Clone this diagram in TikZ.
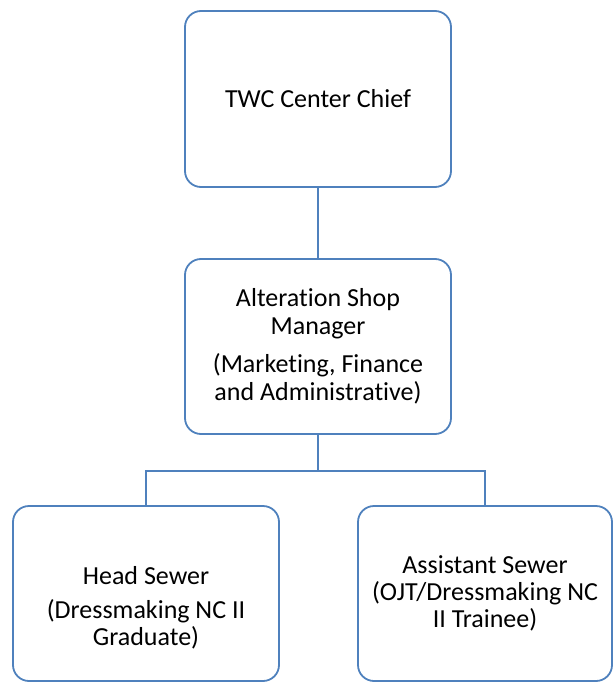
\documentclass[tikz,border=0pt]{standalone}
\usepackage{fontspec}
\setmainfont{Carlito}[Ligatures={NoCommon,NoContextual}]
\definecolor{boxblue}{RGB}{79,129,189}
\newcommand{\bigtext}{\fontsize{26}{28}\selectfont}
\newcommand{\lowtext}{\fontsize{26}{27}\selectfont}
\tikzset{
	orgbox/.style={draw=boxblue, line width=1.8pt, rounded corners=16pt, align=center, inner sep=0pt},
	orgline/.style={draw=boxblue, line width=1.8pt}
}
\begin{document}
\begin{tikzpicture}[x=1pt, y=-1pt]
	\useasboundingbox (0,0) rectangle (614,682);

	\node[orgbox, minimum width=266pt, minimum height=176pt, font=\bigtext] (chief) at (318,99) {TWC Center Chief};
	\node[orgbox, minimum width=266pt, minimum height=175pt, font=\bigtext] (mgr) at (318,346.5)
		{Alteration Shop\\Manager\\[10pt](Marketing, Finance\\and Administrative)};
	\node[orgbox, minimum width=266pt, minimum height=175pt, font=\lowtext] (head) at (146,593.5)
		{\rule{0pt}{46pt}Head Sewer\\[7pt](Dressmaking NC II\\Graduate)};
	\node[orgbox, minimum width=254pt, minimum height=175pt, font=\lowtext] (asst) at (485,593.5)
		{Assistant Sewer\\(OJT/Dressmaking NC\\II Trainee)};

	\coordinate (fork) at (318,471);
	\draw[orgline] (chief) -- (mgr);
	\draw[orgline] (mgr) -- (fork);
	\draw[orgline] (fork) -| (head);
	\draw[orgline] (fork) -| (asst);
\end{tikzpicture}
\end{document}
